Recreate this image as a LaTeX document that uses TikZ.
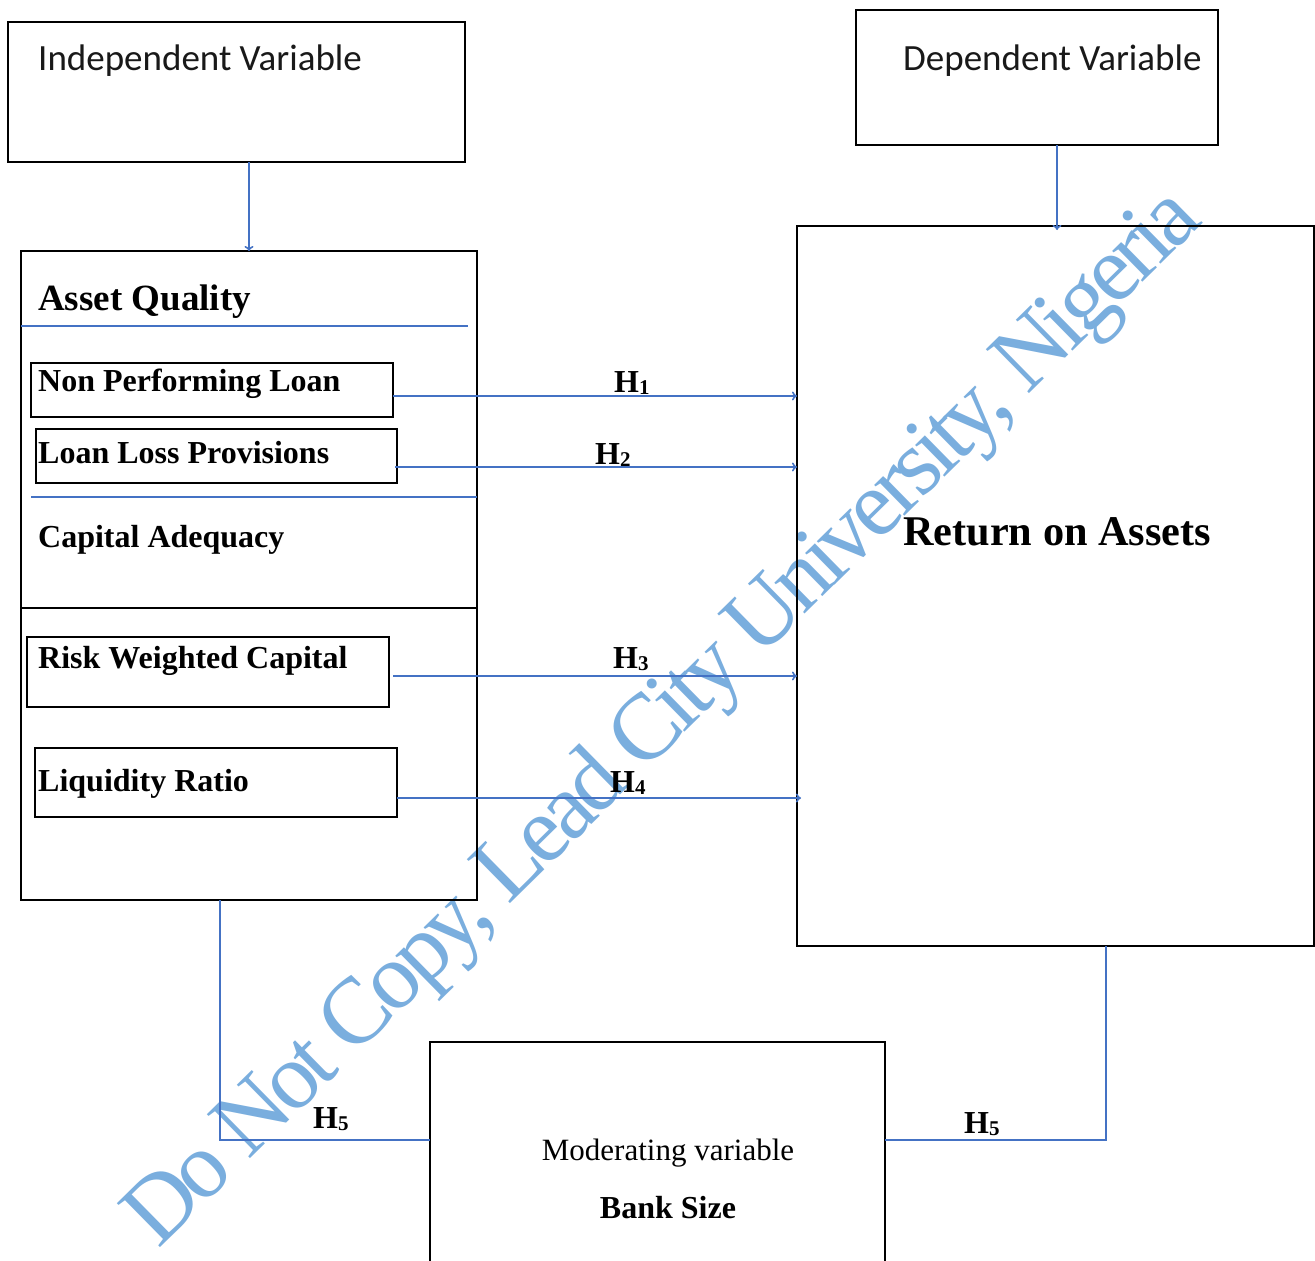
\documentclass[tikz,border=0pt]{standalone}
\usepackage{fontspec}
\setmainfont{Liberation Serif}
\newfontfamily\calib{Carlito}
\newfontfamily\wmfont[LetterSpace=-6]{Liberation Serif}
\usetikzlibrary{arrows.meta}
\definecolor{lnblue}{RGB}{68,114,196}
\definecolor{wmblue}{RGB}{122,174,222}
\newcommand\hlab[1]{\textbf{H\raisebox{-2pt}{\fontsize{21}{21}\selectfont #1}}}
\begin{document}
\begin{tikzpicture}[x=1pt,y=-1pt,
  box/.style={draw=black, line width=1.2pt, inner sep=0pt, outer sep=0pt, anchor=north west},
  bl/.style={draw=lnblue, line width=1.6pt},
  arr/.style={bl, -{To[length=5pt,width=9pt]}},
  txt/.style={anchor=base west, inner sep=0pt},
  hdr/.style={txt, font=\calib\fontsize{37}{40}\selectfont, text=black!90},
  bigb/.style={txt, font=\bfseries\fontsize{37}{40}\selectfont},
  midb/.style={txt, font=\bfseries\fontsize{32}{36}\selectfont},
  hl/.style={txt, font=\fontsize{32}{36}\selectfont}]
\useasboundingbox (0,0) rectangle (1315,1261);
\fill[white] (0,0) rectangle (1315,1261);

% watermark (behind everything)
\node[anchor=base west, rotate=44.5, inner sep=0pt, text=wmblue, font=\wmfont\fontsize{94}{94}\selectfont] (wm) at (158,1250) {Do Not Copy, Lead City University, Nigeria};

% boxes
\node[box, minimum width=457pt, minimum height=140pt] (indep) at (8,22) {};
\node[box, minimum width=362pt, minimum height=135pt] (dep) at (856,10) {};
\node[box, minimum width=456pt, minimum height=649pt] (asset) at (21,251) {};
\node[box, minimum width=517pt, minimum height=720pt] (roa) at (797,226) {};
\node[box, minimum width=455pt, minimum height=240pt] (mod) at (430,1042) {};

\node[box, minimum width=362pt, minimum height=54pt] (npl) at (31,363) {};
\node[box, minimum width=361pt, minimum height=54pt] (llp) at (36,429) {};
\node[box, minimum width=362pt, minimum height=70pt] (rwc) at (27,637) {};
\node[box, minimum width=362pt, minimum height=69pt] (lr) at (35,748) {};

% divider lines inside asset box
\coordinate (aqL) at (21,326);
\coordinate (aqR) at (468,326);
\coordinate (caL) at (31,497);
\coordinate (caR) at (477,497);
\coordinate (spL) at (21,608);
\coordinate (spR) at (477,608);
\draw[bl] (aqL) -- (aqR);
\draw[bl] (caL) -- (caR);
\draw[black, line width=1.2pt] (spL) -- (spR);

% texts
\node[hdr] (tind) at (38,70) {Independent Variable};
\node[hdr] (tdep) at (903,70) {Dependent Variable};
\node[bigb] (taq) at (38,310) {Asset Quality};
\node[midb] (tnpl) at (38,391) {Non Performing Loan};
\node[midb] (tllp) at (38,463) {Loan Loss Provisions};
\node[midb] (tca) at (38,547) {Capital Adequacy};
\node[midb] (trwc) at (38,668) {Risk Weighted Capital};
\node[midb] (tlr) at (38,791) {Liquidity Ratio};
\node[txt, font=\bfseries\fontsize{42.3}{46}\selectfont] (troa) at (903,545) {Return on Assets};
\node[anchor=base, inner sep=0pt, font=\fontsize{31}{34}\selectfont] (tmod) at (668,1160) {Moderating variable};
\node[anchor=base, inner sep=0pt, font=\bfseries\fontsize{32}{34}\selectfont] (tbs) at (668,1218) {Bank Size};

% connectors
\draw[arr] ([xshift=12.5pt]indep.south) -- ([xshift=12.5pt]indep.south |- asset.north);
\draw[arr] ([xshift=20pt]dep.south) -- ([xshift=20pt,yshift=-4pt]dep.south |- roa.north);

\draw[arr] ([yshift=-6pt]npl.east) -- ([yshift=-6pt]npl.east -| roa.west);
\draw[arr] ([xshift=-2pt,yshift=-11pt]llp.east) -- ([yshift=-11pt]llp.east -| roa.west);
\draw[arr] ([xshift=4pt,yshift=-4pt]rwc.east) -- ([yshift=-4pt]rwc.east -| roa.west);
\draw[arr] ([yshift=-15.5pt]lr.east) -- ([xshift=4pt,yshift=-15.5pt]lr.east -| roa.west);

\coordinate (lcorner) at (220,1140);
\coordinate (rcorner) at (1106,1140);
\draw[bl] (lcorner |- asset.south) -- (lcorner) -- (lcorner -| mod.west);
\draw[bl] (rcorner |- roa.south) -- (rcorner) -- (rcorner -| mod.east);

% hypothesis labels
\node[hl] (h1) at (614,392) {\hlab{1}};
\node[hl] (h2) at (595,464) {\hlab{2}};
\node[hl] (h3) at (613,668) {\hlab{3}};
\node[hl] (h4) at (610,792) {\hlab{4}};
\node[hl] (h5a) at (313,1128) {\hlab{5}};
\node[hl] (h5b) at (964,1133) {\hlab{5}};
\end{tikzpicture}
\end{document}
